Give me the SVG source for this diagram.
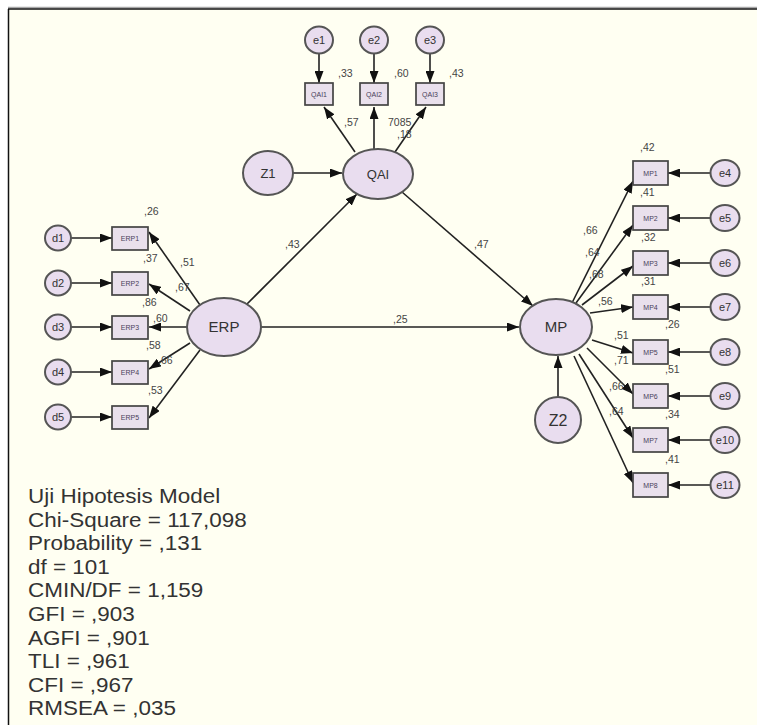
<svg xmlns="http://www.w3.org/2000/svg" width="757" height="725" viewBox="0 0 757 725">
<defs>
<marker id="ah" viewBox="0 0 12 9" refX="12" refY="4.5" markerWidth="12" markerHeight="9" markerUnits="userSpaceOnUse" orient="auto"><path d="M0,0 L12,4.5 L0,9 z" fill="#111"/></marker>
</defs>
<style>
.ell{fill:#e9ddef;stroke:#555;stroke-width:2}
.box{fill:#e9e0ec;stroke:#444;stroke-width:1.7}
.c line{stroke:#222;stroke-width:1.6;marker-end:url(#ah)}
.t{font-family:"Liberation Sans",Arial,sans-serif;fill:#333;text-anchor:middle}
.sm{font-size:7px;fill:#4a3f5a}
.ev{font-size:11px}
.lb{font-family:"Liberation Sans",Arial,sans-serif;font-size:10.5px;fill:#444}
.fit{font-family:"Liberation Sans",Arial,sans-serif;font-size:21px;fill:#333}
</style>
<rect x="0" y="0" width="757" height="725" fill="#ffffff"/>
<rect x="8" y="9" width="749" height="716" fill="#fffff2"/>
<line x1="8" y1="7.5" x2="757" y2="7.5" stroke="#a8a8a8" stroke-width="1.5"/>
<line x1="8" y1="9" x2="757" y2="9" stroke="#111" stroke-width="1.5"/>
<line x1="8.5" y1="9" x2="8.5" y2="725" stroke="#111" stroke-width="1.5"/>

<g class="c" id="connectors">
<line x1="319" y1="54" x2="319" y2="83"/>
<line x1="374" y1="54" x2="374" y2="83"/>
<line x1="430" y1="54" x2="430" y2="83"/>
<line x1="355" y1="152" x2="324" y2="107"/>
<line x1="374" y1="149" x2="374" y2="107"/>
<line x1="395" y1="152" x2="426" y2="107"/>
<line x1="293" y1="173" x2="342" y2="173"/>
<line x1="247" y1="304" x2="357" y2="194"/>
<line x1="402" y1="192" x2="533" y2="306"/>
<line x1="261" y1="327" x2="519" y2="327"/>
<line x1="558" y1="397" x2="558" y2="356"/>
<line x1="71" y1="238" x2="112" y2="238"/>
<line x1="71" y1="283" x2="112" y2="283"/>
<line x1="71" y1="327" x2="112" y2="327"/>
<line x1="71" y1="372" x2="112" y2="372"/>
<line x1="71" y1="417" x2="112" y2="417"/>
<line x1="200" y1="305" x2="149" y2="232"/>
<line x1="190" y1="311" x2="149" y2="284"/>
<line x1="187" y1="327" x2="149" y2="327"/>
<line x1="190" y1="343" x2="149" y2="369"/>
<line x1="200" y1="350" x2="149" y2="418"/>
<line x1="572" y1="303" x2="633" y2="181"/>
<line x1="576" y1="303" x2="633" y2="225"/>
<line x1="582" y1="305" x2="633" y2="266"/>
<line x1="590" y1="313" x2="633" y2="307"/>
<line x1="592" y1="340" x2="633" y2="353"/>
<line x1="587" y1="348" x2="633" y2="394"/>
<line x1="579" y1="354" x2="633" y2="438"/>
<line x1="574" y1="356" x2="633" y2="483"/>
<line x1="711" y1="173" x2="668" y2="173"/>
<line x1="711" y1="218" x2="668" y2="218"/>
<line x1="711" y1="263" x2="668" y2="263"/>
<line x1="711" y1="307" x2="668" y2="307"/>
<line x1="711" y1="352" x2="668" y2="352"/>
<line x1="711" y1="396" x2="668" y2="396"/>
<line x1="711" y1="440" x2="668" y2="440"/>
<line x1="711" y1="485" x2="668" y2="485"/>
</g>

<g id="e1"><ellipse class="ell" cx="319" cy="40" rx="14" ry="13.5"/><text class="t ev" x="319" y="44">e1</text></g>
<g id="e2"><ellipse class="ell" cx="374" cy="40" rx="14" ry="13.5"/><text class="t ev" x="374" y="44">e2</text></g>
<g id="e3"><ellipse class="ell" cx="430" cy="40" rx="14" ry="13.5"/><text class="t ev" x="430" y="44">e3</text></g>
<g id="QAI1"><rect class="box" x="305" y="83" width="28" height="22"/><text class="t sm" x="319" y="96.5">QAI1</text></g>
<g id="QAI2"><rect class="box" x="360" y="83" width="28" height="22"/><text class="t sm" x="374" y="96.5">QAI2</text></g>
<g id="QAI3"><rect class="box" x="416" y="83" width="28" height="22"/><text class="t sm" x="430" y="96.5">QAI3</text></g>
<g id="QAI"><ellipse class="ell" cx="378" cy="174" rx="35" ry="25"/><text class="t" font-size="13" x="378" y="179">QAI</text></g>
<g id="Z1"><ellipse class="ell" cx="268" cy="173" rx="25" ry="22"/><text class="t" font-size="13" x="268" y="178">Z1</text></g>
<g id="ERP"><ellipse class="ell" cx="224" cy="327" rx="37" ry="29"/><text class="t" font-size="15" x="224" y="332">ERP</text></g>
<g id="MP"><ellipse class="ell" cx="556" cy="327" rx="36" ry="28"/><text class="t" font-size="15" x="556" y="332">MP</text></g>
<g id="Z2"><ellipse class="ell" cx="558" cy="420" rx="23" ry="23"/><text class="t" font-size="16" x="558" y="426">Z2</text></g>

<g id="d1"><ellipse class="ell" cx="58" cy="238" rx="13" ry="12.5"/><text class="t ev" x="58" y="242">d1</text></g>
<g id="d2"><ellipse class="ell" cx="58" cy="283" rx="13" ry="12.5"/><text class="t ev" x="58" y="287">d2</text></g>
<g id="d3"><ellipse class="ell" cx="58" cy="327" rx="13" ry="12.5"/><text class="t ev" x="58" y="331">d3</text></g>
<g id="d4"><ellipse class="ell" cx="58" cy="372" rx="13" ry="12.5"/><text class="t ev" x="58" y="376">d4</text></g>
<g id="d5"><ellipse class="ell" cx="58" cy="417" rx="13" ry="12.5"/><text class="t ev" x="58" y="421">d5</text></g>
<g id="ERP1"><rect class="box" x="112" y="227" width="36" height="23"/><text class="t sm" x="130" y="241">ERP1</text></g>
<g id="ERP2"><rect class="box" x="112" y="272" width="36" height="23"/><text class="t sm" x="130" y="286">ERP2</text></g>
<g id="ERP3"><rect class="box" x="112" y="316" width="36" height="23"/><text class="t sm" x="130" y="330">ERP3</text></g>
<g id="ERP4"><rect class="box" x="112" y="361" width="36" height="23"/><text class="t sm" x="130" y="375">ERP4</text></g>
<g id="ERP5"><rect class="box" x="112" y="406" width="36" height="23"/><text class="t sm" x="130" y="420">ERP5</text></g>

<g id="MP1"><rect class="box" x="633" y="161" width="35" height="24"/><text class="t sm" x="650.5" y="176">MP1</text></g>
<g id="MP2"><rect class="box" x="633" y="206" width="35" height="24"/><text class="t sm" x="650.5" y="221">MP2</text></g>
<g id="MP3"><rect class="box" x="633" y="251" width="35" height="24"/><text class="t sm" x="650.5" y="266">MP3</text></g>
<g id="MP4"><rect class="box" x="633" y="295" width="35" height="24"/><text class="t sm" x="650.5" y="310">MP4</text></g>
<g id="MP5"><rect class="box" x="633" y="340" width="35" height="24"/><text class="t sm" x="650.5" y="355">MP5</text></g>
<g id="MP6"><rect class="box" x="633" y="384" width="35" height="24"/><text class="t sm" x="650.5" y="399">MP6</text></g>
<g id="MP7"><rect class="box" x="633" y="428" width="35" height="24"/><text class="t sm" x="650.5" y="443">MP7</text></g>
<g id="MP8"><rect class="box" x="633" y="473" width="35" height="24"/><text class="t sm" x="650.5" y="488">MP8</text></g>
<g id="e4"><ellipse class="ell" cx="725" cy="173" rx="14.5" ry="13"/><text class="t ev" x="725" y="177">e4</text></g>
<g id="e5"><ellipse class="ell" cx="725" cy="218" rx="14.5" ry="13"/><text class="t ev" x="725" y="222">e5</text></g>
<g id="e6"><ellipse class="ell" cx="725" cy="263" rx="14.5" ry="13"/><text class="t ev" x="725" y="267">e6</text></g>
<g id="e7"><ellipse class="ell" cx="725" cy="307" rx="14.5" ry="13"/><text class="t ev" x="725" y="311">e7</text></g>
<g id="e8"><ellipse class="ell" cx="725" cy="352" rx="14.5" ry="13"/><text class="t ev" x="725" y="356">e8</text></g>
<g id="e9"><ellipse class="ell" cx="725" cy="396" rx="14.5" ry="13"/><text class="t ev" x="725" y="400">e9</text></g>
<g id="e10"><ellipse class="ell" cx="725" cy="440" rx="14.5" ry="13"/><text class="t ev" font-size="10" x="725" y="444">e10</text></g>
<g id="e11"><ellipse class="ell" cx="725" cy="485" rx="14.5" ry="13"/><text class="t ev" font-size="10" x="725" y="489">e11</text></g>

<g id="labels">
<text class="lb" x="338" y="77">,33</text>
<text class="lb" x="394" y="77">,60</text>
<text class="lb" x="449" y="77">,43</text>
<text class="lb" x="344" y="126">,57</text>
<text class="lb" x="388" y="126">7085</text>
<text class="lb" x="397" y="138">,18</text>
<text class="lb" x="285" y="248">,43</text>
<text class="lb" x="474" y="248">,47</text>
<text class="lb" x="393" y="323">,25</text>
<text class="lb" x="144" y="215">,26</text>
<text class="lb" x="180" y="266">,51</text>
<text class="lb" x="143" y="262">,37</text>
<text class="lb" x="175" y="291">,67</text>
<text class="lb" x="142" y="306">,86</text>
<text class="lb" x="153" y="322">,60</text>
<text class="lb" x="146" y="349">,58</text>
<text class="lb" x="158" y="364">,66</text>
<text class="lb" x="148" y="394">,53</text>
<text class="lb" x="640" y="151">,42</text>
<text class="lb" x="640" y="196">,41</text>
<text class="lb" x="641" y="241">,32</text>
<text class="lb" x="641" y="285">,31</text>
<text class="lb" x="665" y="328">,26</text>
<text class="lb" x="665" y="373">,51</text>
<text class="lb" x="665" y="418">,34</text>
<text class="lb" x="665" y="463">,41</text>
<text class="lb" x="583" y="234">,66</text>
<text class="lb" x="585" y="256">,64</text>
<text class="lb" x="589" y="278">,68</text>
<text class="lb" x="598" y="305">,56</text>
<text class="lb" x="614" y="339">,51</text>
<text class="lb" x="614" y="364">,71</text>
<text class="lb" x="609" y="390">,66</text>
<text class="lb" x="609" y="415">,64</text>
</g>

<g id="fit" transform="translate(28 0) scale(1.07 1)">
<text class="fit" x="0" y="503">Uji Hipotesis Model</text>
<text class="fit" x="0" y="527">Chi-Square = 117,098</text>
<text class="fit" x="0" y="550">Probability = ,131</text>
<text class="fit" x="0" y="574">df = 101</text>
<text class="fit" x="0" y="597">CMIN/DF = 1,159</text>
<text class="fit" x="0" y="621">GFI = ,903</text>
<text class="fit" x="0" y="645">AGFI = ,901</text>
<text class="fit" x="0" y="668">TLI = ,961</text>
<text class="fit" x="0" y="692">CFI = ,967</text>
<text class="fit" x="0" y="715">RMSEA = ,035</text>
</g>
</svg>
